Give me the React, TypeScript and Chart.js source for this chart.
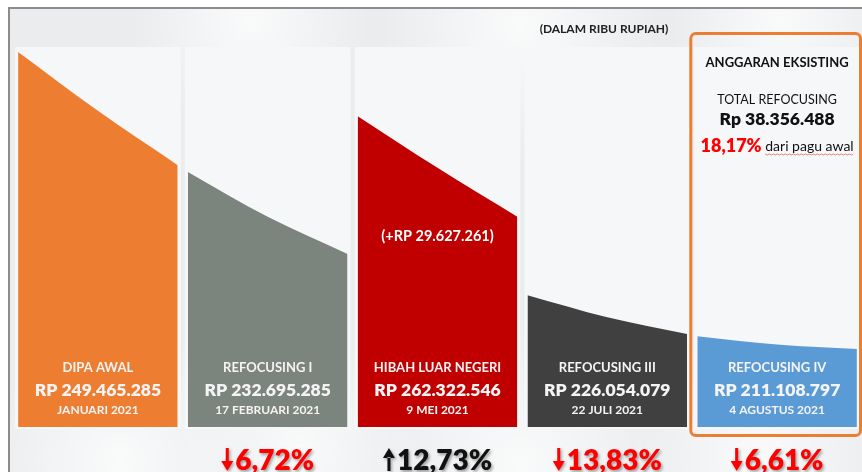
import React, { useEffect, useRef } from 'react';
import { Chart, registerables } from 'chart.js';

Chart.register(...registerables);

// ---- data ----
const categories = ['DIPA AWAL', 'REFOCUSING I', 'HIBAH LUAR NEGERI', 'REFOCUSING III', 'REFOCUSING IV'];
const amounts = [249465285, 232695285, 262322546, 226054079, 211108797];
const dates = ['JANUARI 2021', '17 FEBRUARI 2021', '9 MEI 2021', '22 JULI 2021', '4 AGUSTUS 2021'];
const changes: (number | null)[] = [null, -6.72, 12.73, -13.83, -6.61];
// decorative shape heights (percent of panel height) at left edge, middle, right edge
const shapeLeft = [98.7, 67.1, 81.8, 34.7, 23.9];
const shapeMid = [83.2, 55.3, 68.2, 28.9, 21.7];
const shapeRight = [68.9, 45.5, 55.3, 24.5, 20.5];
const barColors = ['#ED7D31', '#7B857E', '#C00000', '#404040', '#5B9BD5'];
const hibahExtra = 29627261;
const totalRefocusing = 38356488;
const totalRefocusingPct = 18.17;
const unitNote = '(DALAM RIBU RUPIAH)';

const GAP = 0.03;
const FONT = 'Lato, "Open Sans", sans-serif';

const fmt = (n: number) => String(n).replace(/\B(?=(\d{3})+(?!\d))/g, '.');
const fmtPct = (n: number) => Math.abs(n).toFixed(2).replace('.', ',') + '%';

export default function App() {
  const ref = useRef<HTMLCanvasElement>(null);

  useEffect(() => {
    document.body.style.margin = '0';
    document.body.style.overflow = 'hidden';
    const canvas = ref.current;
    if (!canvas) return;

    const datasets = categories.map((c, i) => ({
      label: c,
      data: [
        { x: i + GAP, y: shapeLeft[i] },
        { x: i + 0.5, y: shapeMid[i] },
        { x: i + 1 - GAP, y: shapeRight[i] },
      ],
      backgroundColor: barColors[i],
      borderColor: barColors[i],
      borderWidth: 0,
      fill: 'origin',
      pointRadius: 0,
      cubicInterpolationMode: 'monotone' as const,
    }));

    const bgPlugin = {
      id: 'bg',
      beforeDraw(chart: any) {
        const { ctx, width, height, scales } = chart;
        const x = scales.x;
        const y = scales.y;
        const top = y.getPixelForValue(100);
        const bottom = y.getPixelForValue(0);
        ctx.save();
        ctx.fillStyle = '#ffffff';
        ctx.fillRect(0, 0, width, height);
        ctx.fillStyle = '#EAECEE';
        ctx.fillRect(9, 8, width - 9, height - 8);
        // soft light patches (feather texture hint)
        const blobs = [
          [120, 460, 140], [300, 450, 120], [520, 465, 150], [760, 455, 130],
          [250, 20, 120], [520, 25, 140], [780, 20, 110],
        ];
        for (const [bx, by, br] of blobs) {
          const g = ctx.createRadialGradient(bx, by, 0, bx, by, br);
          g.addColorStop(0, 'rgba(255,255,255,0.75)');
          g.addColorStop(1, 'rgba(255,255,255,0)');
          ctx.fillStyle = g;
          ctx.fillRect(bx - br, by - br, br * 2, br * 2);
        }
        // lighter columns
        for (let i = 0; i < categories.length; i++) {
          const l = x.getPixelForValue(i + GAP) - 3;
          const r = x.getPixelForValue(i + 1 - GAP) + 3;
          ctx.fillStyle = '#F6F7F8';
          ctx.fillRect(l, top, r - l, bottom - top + 2);
        }
        // frame
        ctx.strokeStyle = '#8C8C8C';
        ctx.lineWidth = 2;
        ctx.beginPath();
        ctx.moveTo(9, height);
        ctx.lineTo(9, 8);
        ctx.lineTo(width, 8);
        ctx.stroke();
        ctx.restore();
      },
    };

    const textPlugin = {
      id: 'texts',
      afterDatasetsDraw(chart: any) {
        const { ctx, scales } = chart;
        const x = scales.x;
        const cx = (i: number) => (x.getPixelForValue(i + GAP) + x.getPixelForValue(i + 1 - GAP)) / 2;
        ctx.save();
        ctx.textAlign = 'center';
        ctx.textBaseline = 'middle';

        // bar labels
        for (let i = 0; i < categories.length; i++) {
          ctx.fillStyle = '#F4F4F4';
          ctx.font = `bold 13px ${FONT}`;
          ctx.fillText(categories[i], cx(i), 368);
          ctx.font = `800 17.5px ${FONT}`;
          ctx.fillText('RP ' + fmt(amounts[i]), cx(i), 390);
          ctx.font = `bold 12px ${FONT}`;
          ctx.fillText(dates[i], cx(i), 410);
        }

        // hibah extra
        ctx.fillStyle = '#FFFFFF';
        ctx.font = `bold 14.5px ${FONT}`;
        ctx.fillText(`(+RP ${fmt(hibahExtra)})`, cx(2), 236);

        // unit note
        ctx.fillStyle = '#222222';
        ctx.font = `bold 12px ${FONT}`;
        ctx.fillText(unitNote, 604, 29);

        // box
        const bx = x.getPixelForValue(4 + GAP) - 6.5;
        ctx.strokeStyle = '#ED7D31';
        ctx.lineWidth = 3;
        ctx.beginPath();
        ctx.roundRect(bx, 33.5, chart.width - bx - 1.5, 402, 5);
        ctx.stroke();

        const bc = cx(4);
        ctx.fillStyle = '#111111';
        ctx.font = `bold 13px ${FONT}`;
        ctx.fillText('ANGGARAN EKSISTING', bc, 63);
        ctx.font = `12.5px ${FONT}`;
        ctx.fillText('TOTAL REFOCUSING', bc, 100);
        ctx.font = `800 17.5px ${FONT}`;
        ctx.fillText('Rp ' + fmt(totalRefocusing), bc, 119);

        const pctTxt = fmtPct(totalRefocusingPct);
        const restTxt = ' dari pagu awal';
        ctx.font = `800 18px ${FONT}`;
        const w1 = ctx.measureText(pctTxt).width;
        ctx.font = `14px ${FONT}`;
        const w2 = ctx.measureText(restTxt).width;
        const sx = bc - (w1 + w2) / 2;
        ctx.textAlign = 'left';
        ctx.fillStyle = '#FF0000';
        ctx.font = `800 18px ${FONT}`;
        ctx.fillText(pctTxt, sx, 146);
        ctx.fillStyle = '#111111';
        ctx.font = `14px ${FONT}`;
        ctx.fillText(restTxt, sx + w1, 146);
        // spell-check squiggle
        const sqStart = sx + w1 + ctx.measureText(' ').width;
        ctx.strokeStyle = 'rgba(220,40,40,0.7)';
        ctx.lineWidth = 0.8;
        ctx.beginPath();
        for (let px = sqStart; px <= sx + w1 + w2; px += 2) {
          const yy = 154 + ((Math.round((px - sqStart) / 2) % 2) ? 1 : 0);
          if (px === sqStart) ctx.moveTo(px, yy);
          else ctx.lineTo(px, yy);
        }
        ctx.stroke();

        // percentage changes
        ctx.textBaseline = 'alphabetic';
        for (let i = 0; i < changes.length; i++) {
          const v = changes[i];
          if (v === null) continue;
          const down = v < 0;
          const color = down ? '#FF0000' : '#111111';
          const txt = fmtPct(v);
          ctx.font = `800 28px ${FONT}`;
          const tw = ctx.measureText(txt).width;
          const aw = 12;
          const total = aw + 2 + tw;
          const start = cx(i) - total / 2;
          ctx.save();
          ctx.shadowColor = 'rgba(0,0,0,0.35)';
          ctx.shadowBlur = 3;
          ctx.shadowOffsetX = 1.5;
          ctx.shadowOffsetY = 1.5;
          ctx.fillStyle = color;
          ctx.textAlign = 'left';
          ctx.fillText(txt, start + aw + 2, 470);
          // arrow
          const ax = start + aw / 2;
          const yTop = 448;
          const yBot = 471;
          ctx.beginPath();
          if (down) {
            ctx.rect(ax - 1.5, yTop, 3, yBot - yTop - 9);
            ctx.moveTo(ax - aw / 2, yBot - 10);
            ctx.lineTo(ax + aw / 2, yBot - 10);
            ctx.lineTo(ax, yBot);
            ctx.closePath();
          } else {
            ctx.rect(ax - 1.5, yTop + 9, 3, yBot - yTop - 9);
            ctx.moveTo(ax - aw / 2, yTop + 10);
            ctx.lineTo(ax + aw / 2, yTop + 10);
            ctx.lineTo(ax, yTop);
            ctx.closePath();
          }
          ctx.fill();
          ctx.restore();
        }
        ctx.restore();
      },
    };

    const chart = new Chart(canvas, {
      type: 'line',
      data: { datasets: datasets as any },
      options: {
        animation: false,
        responsive: true,
        maintainAspectRatio: false,
        layout: { padding: { left: 13, right: 0, top: 47, bottom: 45 } },
        plugins: { legend: { display: false }, tooltip: { enabled: false } },
        scales: {
          x: { type: 'linear', min: 0, max: 5, display: false },
          y: { min: 0, max: 100, display: false },
        },
      },
      plugins: [bgPlugin, textPlugin],
    });
    return () => chart.destroy();
  }, []);

  return (
    <div style={{ position: 'fixed', left: 0, top: 0, width: 862, height: 472 }}>
      <canvas ref={ref} />
    </div>
  );
}
